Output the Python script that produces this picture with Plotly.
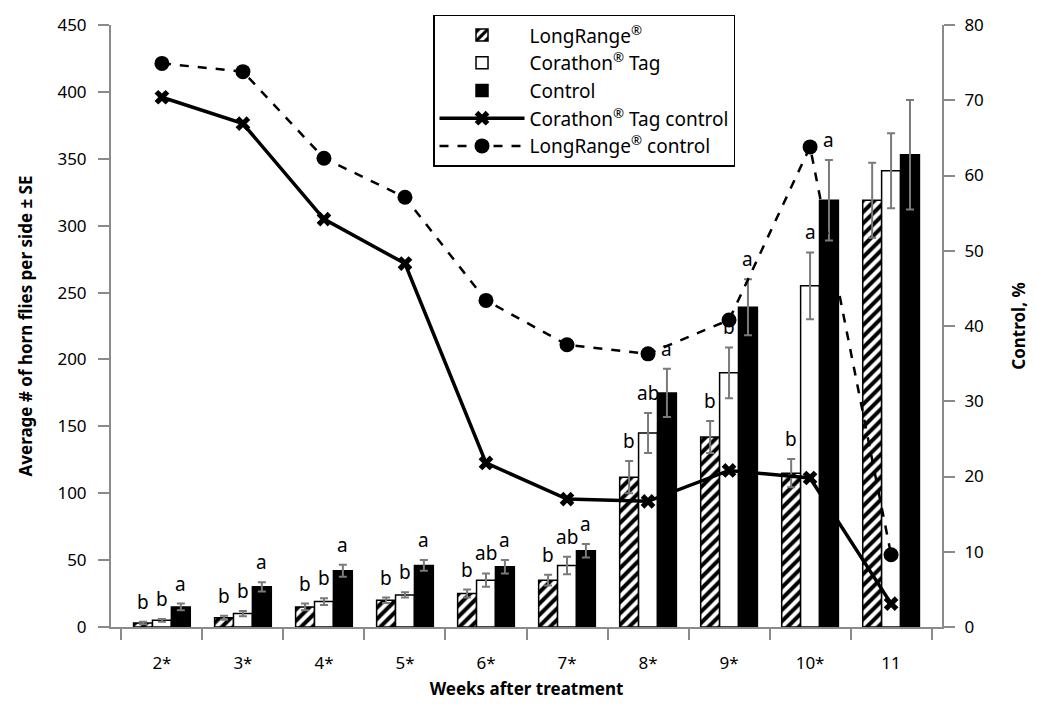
import plotly.graph_objects as go

weeks = ["2*", "3*", "4*", "5*", "6*", "7*", "8*", "9*", "10*", "11"]

longrange = [3, 7, 15, 20, 25, 35, 112, 142, 115, 319]
corathon = [5, 10, 19, 24, 35, 46, 145, 190, 255, 341]
control = [15, 30, 42, 46, 45, 57, 175, 239, 319, 353]

longrange_se = [1, 1.5, 2.5, 2, 3, 4, 12, 12, 10.5, 28]
corathon_se = [1, 2, 2.5, 2, 5, 6.5, 15, 19, 25, 28]
control_se = [2.5, 3.5, 4.5, 4, 5, 5, 18, 21, 30, 41]

corathon_ctrl_pct = [70.4, 66.9, 54.2, 48.3, 21.8, 17.0, 16.7, 20.8, 19.8, 3.1]
longrange_ctrl_pct = [74.9, 73.8, 62.3, 57.1, 43.4, 37.5, 36.3, 40.8, 63.8, 9.6]

longrange_letters = ["b", "b", "b", "b", "b", "b", "b", "b", "b", ""]
corathon_letters = ["b", "b", "b", "b", "ab", "ab", "ab", "b", "a", ""]
control_letters = ["a", "a", "a", "a", "a", "a", "a", "a", "a", ""]

FONT = "Noto Sans"
AXIS_GRAY = "#8a8a8a"
ERR_GRAY = "#7a7a7a"
BARGAP = 0.3

fig = go.Figure()

err_style = dict(type="data", color=ERR_GRAY, thickness=2, width=4)

fig.add_trace(go.Bar(
    x=weeks, y=longrange, name="LongRange<sup>®</sup>",
    marker=dict(color="white", line=dict(color="black", width=1.5),
                pattern=dict(shape="/", fgcolor="black", bgcolor="white",
                             fgopacity=1, size=8, solidity=0.5)),
    error_y=dict(array=longrange_se, **err_style),
))
fig.add_trace(go.Bar(
    x=weeks, y=corathon, name="Corathon<sup>®</sup> Tag",
    marker=dict(color="white", line=dict(color="black", width=1.5)),
    error_y=dict(array=corathon_se, **err_style),
))
fig.add_trace(go.Bar(
    x=weeks, y=control, name="Control",
    marker=dict(color="black", line=dict(color="black", width=1.5)),
    error_y=dict(array=control_se, **err_style),
))
fig.add_trace(go.Scatter(
    x=weeks, y=corathon_ctrl_pct, name="Corathon<sup>®</sup> Tag control",
    yaxis="y2", mode="lines+markers",
    line=dict(color="black", width=3.5),
    marker=dict(symbol="x", size=13, color="black"),
))
fig.add_trace(go.Scatter(
    x=weeks, y=longrange_ctrl_pct, name="LongRange<sup>®</sup> control",
    yaxis="y2", mode="lines+markers",
    line=dict(color="black", width=2.5, dash="dash"),
    marker=dict(symbol="circle", size=15, color="black"),
))

# significance letters above each bar
bw = (1 - BARGAP) / 3
annotations = []
for k, (vals, ses, letters) in enumerate([
        (longrange, longrange_se, longrange_letters),
        (corathon, corathon_se, corathon_letters),
        (control, control_se, control_letters)]):
    for i, (v, s, t) in enumerate(zip(vals, ses, letters)):
        if not t:
            continue
        annotations.append(dict(
            x=i + (k - 1) * bw, y=v + s, xref="x", yref="y", text=t,
            showarrow=False, yanchor="bottom", yshift=5,
            font=dict(family=FONT, size=19, color="black"),
        ))

fig.update_layout(
    width=1037, height=707,
    margin=dict(l=111, r=95, t=25, b=80),
    paper_bgcolor="white", plot_bgcolor="white",
    font=dict(family=FONT, size=17, color="black"),
    barmode="group", bargap=BARGAP, bargroupgap=0,
    showlegend=True,
    legend=dict(
        x=0.3875, y=1.017, xanchor="left", yanchor="top",
        bordercolor="black", borderwidth=1.5, bgcolor="white",
        font=dict(family=FONT, size=19, color="black"),
        itemwidth=85, traceorder="normal",
    ),
    xaxis=dict(
        type="category", showline=True, linecolor=AXIS_GRAY, linewidth=2,
        ticks="outside", tickson="boundaries", ticklen=11, tickwidth=2,
        tickcolor=AXIS_GRAY, ticklabelstandoff=20,
        title=dict(text="<b>Weeks after treatment</b>", standoff=10,
                   font=dict(family=FONT, size=17)),
        showgrid=False, zeroline=False,
    ),
    yaxis=dict(
        range=[0, 450], dtick=50, showline=True, linecolor=AXIS_GRAY,
        linewidth=2, ticks="outside", ticklen=11, tickwidth=2,
        tickcolor=AXIS_GRAY, showgrid=False, zeroline=False,
        ticklabelstandoff=8,
        title=dict(text="<b>Average # of horn flies per side ± SE</b>",
                   standoff=20, font=dict(family=FONT, size=17)),
    ),
    yaxis2=dict(
        range=[0, 80], dtick=10, overlaying="y", side="right",
        showline=True, linecolor=AXIS_GRAY, linewidth=2, ticks="outside",
        ticklen=11, tickwidth=2, tickcolor=AXIS_GRAY, showgrid=False,
        zeroline=False, ticklabelstandoff=6,
        title=dict(text="<b>Control, %</b>", standoff=30,
                   font=dict(family=FONT, size=17)),
    ),
    annotations=annotations,
)

fig.write_html("out.html")
